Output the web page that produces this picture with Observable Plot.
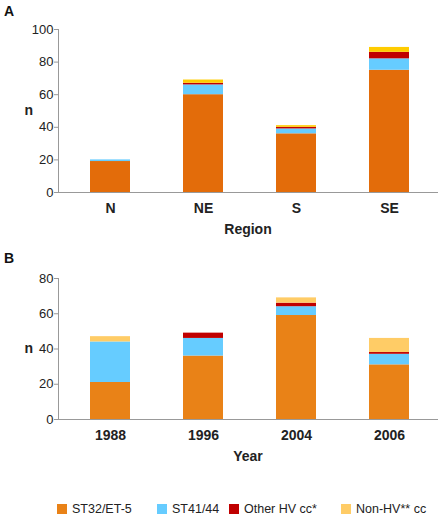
<!DOCTYPE html>
<html><head><meta charset="utf-8">
<script src="https://cdn.jsdelivr.net/npm/d3@7"></script>
<script src="https://cdn.jsdelivr.net/npm/@observablehq/plot@0.6"></script>
<style>
body{margin:0;background:#fff;font-family:"Liberation Sans",Arial,sans-serif;}
#wrap{position:relative;width:442px;height:518px;overflow:hidden;background:#fff;}
.panel{position:absolute;left:0;}
.plabel{position:absolute;left:4px;font-weight:bold;font-size:14px;line-height:1;color:#111;}
.item{position:absolute;top:501px;display:flex;align-items:center;font-size:12.5px;line-height:16px;color:#222;white-space:nowrap}
.sw{display:inline-block;width:10px;height:10px;margin-right:5px}
</style></head>
<body><div id="wrap"></div>
<script>
const seriesNames = ["ST32/ET-5", "ST41/44", "Other HV cc*", "Non-HV** cc"];

const regions = ["N", "NE", "S", "SE"];
const regionST32 = [19, 60, 36, 75];
const regionST41 = [1, 6, 3, 7];
const regionOtherHV = [0, 1, 1, 4];
const regionNonHV = [0, 2, 1, 3];

const years = ["1988", "1996", "2004", "2006"];
const yearST32 = [21, 36, 59, 31];
const yearST41 = [23, 10, 5, 6];
const yearOtherHV = [0, 3, 2, 1];
const yearNonHV = [3, 0, 3, 8];

const regionTicks = [0, 20, 40, 60, 80, 100];
const yearTicks = [0, 20, 40, 60, 80];

const colorsA = ["#e36c0a", "#66ccff", "#c00000", "#ffcc00"];
const colorsB = ["#e98217", "#66ccff", "#c00000", "#ffcc66"];

function panel({cats, values, ticks, colors, height, marginTop, marginBottom, xLabel}) {
  const table = [];
  cats.forEach((c, i) => seriesNames.forEach((s, j) => table.push({cat: c, series: s, n: values[j][i]})));
  return Plot.plot({
    width: 442, height, marginLeft: 58, marginRight: 5, marginTop, marginBottom,
    style: {fontFamily: "'Liberation Sans', Arial, sans-serif", color: "#222", background: "white"},
    x: {domain: cats, paddingInner: 0.57, paddingOuter: 0.285, insetLeft: 4, insetRight: 1, label: null},
    y: {domain: [0, ticks[ticks.length - 1]], label: null},
    color: {domain: seriesNames, range: colors},
    marks: [
      Plot.barY(table, {x: "cat", y: "n", fill: "series"}),
      Plot.frame({anchor: "left", stroke: "#999"}),
      Plot.frame({anchor: "bottom", stroke: "#999"}),
      Plot.axisY({ticks, tickSize: 4, tickPadding: 1, fontSize: 13, stroke: "#999", label: null}),
      Plot.axisX({tickSize: 0, tickPadding: 11, fontSize: 14, fontWeight: "bold", label: null}),
      Plot.text(["n"], {frameAnchor: "left", dx: -34, fontSize: 14, fontWeight: "bold"}),
      Plot.text([xLabel], {frameAnchor: "bottom", dy: 41, fontSize: 14, fontWeight: "bold"})
    ]
  });
}

const wrap = document.getElementById("wrap");

const a = panel({cats: regions, values: [regionST32, regionST41, regionOtherHV, regionNonHV],
  ticks: regionTicks, colors: colorsA, height: 245, marginTop: 29, marginBottom: 53, xLabel: "Region"});
a.classList.add("panel"); a.style.top = "0px";
wrap.appendChild(a);

const b = panel({cats: years, values: [yearST32, yearST41, yearOtherHV, yearNonHV],
  ticks: yearTicks, colors: colorsB, height: 235, marginTop: 33, marginBottom: 61, xLabel: "Year"});
b.classList.add("panel"); b.style.top = "245px";
wrap.appendChild(b);

for (const [t, top] of [["A", 4], ["B", 251]]) {
  const d = document.createElement("div");
  d.className = "plabel"; d.textContent = t; d.style.top = top + "px";
  wrap.appendChild(d);
}

// legend layout (left offsets of each entry's swatch)
const legendLeft = [57, 157, 229, 341];
seriesNames.forEach((s, i) => {
  const it = document.createElement("div"); it.className = "item";
  it.style.left = legendLeft[i] + "px";
  const sw = document.createElement("span"); sw.className = "sw"; sw.style.background = colorsB[i];
  it.appendChild(sw); it.appendChild(document.createTextNode(s));
  wrap.appendChild(it);
});
</script>
</body></html>
